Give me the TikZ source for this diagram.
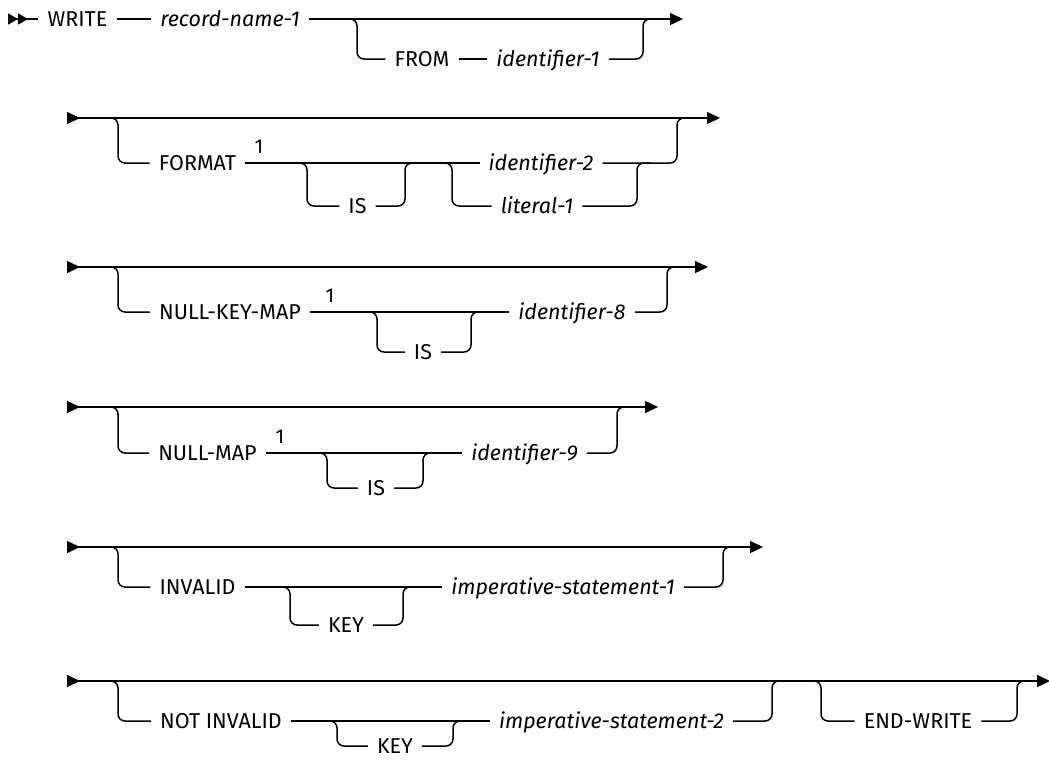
\documentclass[tikz,border=0pt]{standalone}
\usepackage{fontspec}
\setmainfont{Fira Sans}
\usetikzlibrary{arrows.meta}

\tikzset{
  rail/.style={line width=1.5pt, rounded corners=7pt},
  trunk/.style={rail, {Triangle[reversed,length=13pt,width=12pt]}-{Triangle[length=13pt,width=12pt]}},
  kw/.style={font=\fontsize{21.5}{25}\selectfont, inner xsep=9pt, inner ysep=0pt, text height=14.5pt, text depth=0pt},
  var/.style={kw, font=\fontsize{21.5}{25}\selectfont\itshape},
  note/.style={font=\fontsize{20}{24}\selectfont, inner sep=0pt},
}

\begin{document}
\begin{tikzpicture}[x=1pt,y=-1pt]
\useasboundingbox (0,0) rectangle (1049,763);

% WRITE record-name-1 [FROM identifier-1]
\coordinate (s1) at (8,19);
\coordinate (e1) at (683,19);
\node[kw] (write) at (77.5,19) {WRITE};
\node[var] (rec) at (230,19) {record-name-1};
\draw[rail,{Triangle[reversed,length=10pt,width=11pt] Triangle[reversed,length=10pt,width=11pt]}-] (s1) -- (write);
\draw[rail] (write) -- (rec);
\draw[rail,-{Triangle[length=13pt,width=12pt]}] (rec) -- (e1);
\coordinate (b1d) at (357,19);
\coordinate (b1u) at (643,19);
\node[kw] (from) at (422,59) {FROM};
\node[var] (id1) at (548,59) {identifier-1};
\draw[rail] ([xshift=-14pt]b1d) -- (b1d) |- (from);
\draw[rail] (from) -- (id1);
\draw[rail] (id1) -| (b1u) -- ([xshift=14pt]b1u);

% FORMAT
\coordinate (s2) at (67,118);
\coordinate (e2) at (720,118);
\draw[trunk] (s2) -- (e2);
\coordinate (b2d) at (118,118);
\coordinate (b2u) at (677,118);
\node[kw] (fmt) at (197.5,163) {FORMAT};
\node[note] (n2) at (259,147) {1};
\coordinate (is2d) at (307,163);
\coordinate (is2u) at (405,163);
\node[kw] (is2) at (357.5,206) {IS};
\coordinate (lit2d) at (452,163);
\coordinate (lit2u) at (637,163);
\node[var] (id2) at (541,163) {identifier-2};
\node[var] (lit1) at (537,206) {literal-1};
\draw[rail] ([xshift=-14pt]b2d) -- (b2d) |- (fmt);
\draw[rail] (fmt) -- (id2);
\draw[rail] ([xshift=-14pt]is2d) -- (is2d) |- (is2) -| (is2u) -- ([xshift=14pt]is2u);
\draw[rail] ([xshift=-14pt]lit2d) -- (lit2d) |- (lit1) -| (lit2u) -- ([xshift=14pt]lit2u);
\draw[rail] (id2) -| (b2u) -- ([xshift=14pt]b2u);

% NULL-KEY-MAP
\coordinate (s3) at (67,267);
\coordinate (e3) at (708,267);
\draw[trunk] (s3) -- (e3);
\coordinate (b3d) at (118,267);
\coordinate (b3u) at (667,267);
\node[kw] (nkm) at (230,312) {NULL-KEY-MAP};
\node[note] (n3) at (330,296) {1};
\coordinate (is3d) at (377,312);
\coordinate (is3u) at (471,312);
\node[kw] (is3) at (423,352) {IS};
\node[var] (id8) at (572,312) {identifier-8};
\draw[rail] ([xshift=-14pt]b3d) -- (b3d) |- (nkm);
\draw[rail] (nkm) -- (id8);
\draw[rail] ([xshift=-14pt]is3d) -- (is3d) |- (is3) -| (is3u) -- ([xshift=14pt]is3u);
\draw[rail] (id8) -| (b3u) -- ([xshift=14pt]b3u);

% NULL-MAP
\coordinate (s4) at (67,407);
\coordinate (e4) at (658,407);
\draw[trunk] (s4) -- (e4);
\coordinate (b4d) at (118,407);
\coordinate (b4u) at (617,407);
\node[kw] (nm) at (207.5,453) {NULL-MAP};
\node[note] (n4) at (280,437) {1};
\coordinate (is4d) at (327,453);
\coordinate (is4u) at (423,453);
\node[kw] (is4) at (376,488) {IS};
\node[var] (id9) at (524.5,453) {identifier-9};
\draw[rail] ([xshift=-14pt]b4d) -- (b4d) |- (nm);
\draw[rail] (nm) -- (id9);
\draw[rail] ([xshift=-14pt]is4d) -- (is4d) |- (is4) -| (is4u) -- ([xshift=14pt]is4u);
\draw[rail] (id9) -| (b4u) -- ([xshift=14pt]b4u);

% INVALID KEY
\coordinate (s5) at (67,547);
\coordinate (e5) at (763,547);
\draw[trunk] (s5) -- (e5);
\coordinate (b5d) at (118,547);
\coordinate (b5u) at (723,547);
\node[kw] (inv) at (197.5,587) {INVALID};
\coordinate (key5d) at (290,587);
\coordinate (key5u) at (403,587);
\node[kw] (key5) at (346,625) {KEY};
\node[var] (imp1) at (563,587) {imperative-statement-1};
\draw[rail] ([xshift=-14pt]b5d) -- (b5d) |- (inv);
\draw[rail] (inv) -- (imp1);
\draw[rail] ([xshift=-14pt]key5d) -- (key5d) |- (key5) -| (key5u) -- ([xshift=14pt]key5u);
\draw[rail] (imp1) -| (b5u) -- ([xshift=14pt]b5u);

% NOT INVALID KEY, END-WRITE
\coordinate (s6) at (67,681);
\coordinate (e6) at (1050,681);
\draw[trunk] (s6) -- (e6);
\coordinate (b6d) at (118,681);
\coordinate (b6u) at (772,681);
\node[kw] (ninv) at (221,721) {NOT INVALID};
\coordinate (key6d) at (337,721);
\coordinate (key6u) at (453,721);
\node[kw] (key6) at (395,746) {KEY};
\node[var] (imp2) at (611.5,721) {imperative-statement-2};
\draw[rail] ([xshift=-14pt]b6d) -- (b6d) |- (ninv);
\draw[rail] (ninv) -- (imp2);
\draw[rail] ([xshift=-14pt]key6d) -- (key6d) |- (key6) -| (key6u) -- ([xshift=14pt]key6u);
\draw[rail] (imp2) -| (b6u) -- ([xshift=14pt]b6u);
\coordinate (ewd) at (821,681);
\coordinate (ewu) at (1017,681);
\node[kw] (endw) at (918,721) {END-WRITE};
\draw[rail] ([xshift=-14pt]ewd) -- (ewd) |- (endw) -| (ewu) -- ([xshift=14pt]ewu);
\end{tikzpicture}
\end{document}
